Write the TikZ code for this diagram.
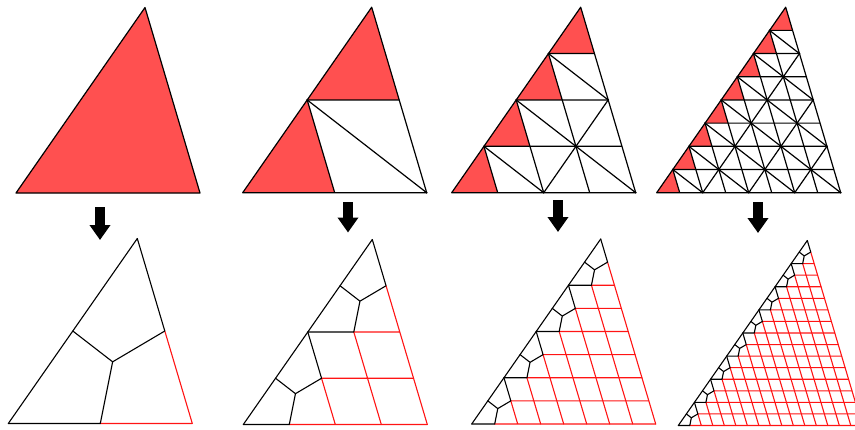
\documentclass[tikz,border=0pt]{standalone}
\usetikzlibrary{arrows.meta}
\definecolor{meshred}{RGB}{255,20,20}
\definecolor{cellred}{RGB}{255,80,80}
\begin{document}
\begin{tikzpicture}[x=1pt,y=-1pt,topline/.style={line width=1.2pt, line join=round},redcell/.style={fill=cellred},quadline/.style={line width=1.1pt, line join=round, line cap=round},redline/.style={quadline, draw=meshred},bigarrow/.style={line width=10pt, -{Triangle[width=20pt,length=15pt]}}]
\useasboundingbox (0,0) rectangle (855,429);
\clip (0,0) rectangle (855,429);
\foreach \ax/\ay/\n in {16/193/1, 242.7/192.7/2, 451.7/192.7/4, 656.7/192.7/8} {
\pgfmathsetmacro\sx{184/\n} \pgfmathsetmacro\cx{129/\n} \pgfmathsetmacro\cy{185.5/\n}
\pgfmathtruncatemacro\nm{\n-1} \pgfmathtruncatemacro\hn{\n/2} \pgfmathtruncatemacro\hm{\n/2-1}
\begin{scope}[shift={(\ax pt,-\ay pt)}, x={(\sx pt,0pt)}, y={(\cx pt,\cy pt)}]
\foreach \j in {0,...,\nm} \fill[redcell] (0,\j) -- (1,\j) -- (0,\j+1) -- cycle;
\ifnum\n>1
\foreach \j in {1,...,\nm} \draw[topline] (0,\j) -- (\n-\j,\j) (\j,0) -- (0,\j);
\foreach \t in {1,...,\nm} {\pgfmathtruncatemacro\lj{max(0,2*\t-\n)} \draw[topline] (0,\t) -- (2*\t-2*\lj,\lj);}
\foreach \j in {1,...,\nm} \fill (0,\j) circle[radius=1pt];
\foreach \a in {1,...,\hn} {\pgfmathtruncatemacro\jm{\n-2*\a} \foreach \j in {0,...,\jm} \fill (2*\a,\j) circle[radius=1pt];}
\fi
\ifnum\n>2
\foreach \a in {1,...,\hm} \draw[topline] (2*\a,0) -- (2*\a,\n-2*\a);
\fi
\draw[topline] (0,0) -- (\n,0) -- (0,\n) -- cycle;
\end{scope}
}
\foreach \ax/\ay/\n in {8.3/423.5/1, 243.3/424.5/2, 471.7/424/4, 678.3/425.5/8} {
\pgfmathtruncatemacro\N{2*\n} \pgfmathtruncatemacro\nm{\n-1}
\pgfmathsetmacro\sx{184/\N} \pgfmathsetmacro\cx{129/\N} \pgfmathsetmacro\cy{185/\N}
\begin{scope}[shift={(\ax pt,-\ay pt)}, x={(\sx pt,0pt)}, y={(\cx pt,\cy pt)}]
\foreach \k in {2,...,\N} {\pgfmathtruncatemacro\km{\k-1} \pgfmathtruncatemacro\jr{\k-2}
\draw[redline] (\k,0) -- (1,\km) (1,\jr) -- (\N-\jr,\jr);}
\draw[quadline] (0,0) -- (0,\N);
\foreach \t in {0,...,\nm} {\coordinate (centre) at (2/3,2*\t+2/3);
\draw[quadline] (0,2*\t) -- (1,2*\t) (1,2*\t+1) -- (0,2*\t+2) (centre) -- (1,2*\t) (centre) -- (1,2*\t+1) (centre) -- (0,2*\t+1);}
\end{scope}
}
\foreach \ix/\ax/\at/\ab in {1/100/207/240, 2/348/202/232.5, 3/558/200/232, 4/758/202/233} {
\coordinate (arrow\ix top) at (\ax,\at); \coordinate (arrow\ix tip) at (\ax,\ab);
\draw[bigarrow] (arrow\ix top) -- (arrow\ix tip);
}
\end{tikzpicture}
\end{document}
